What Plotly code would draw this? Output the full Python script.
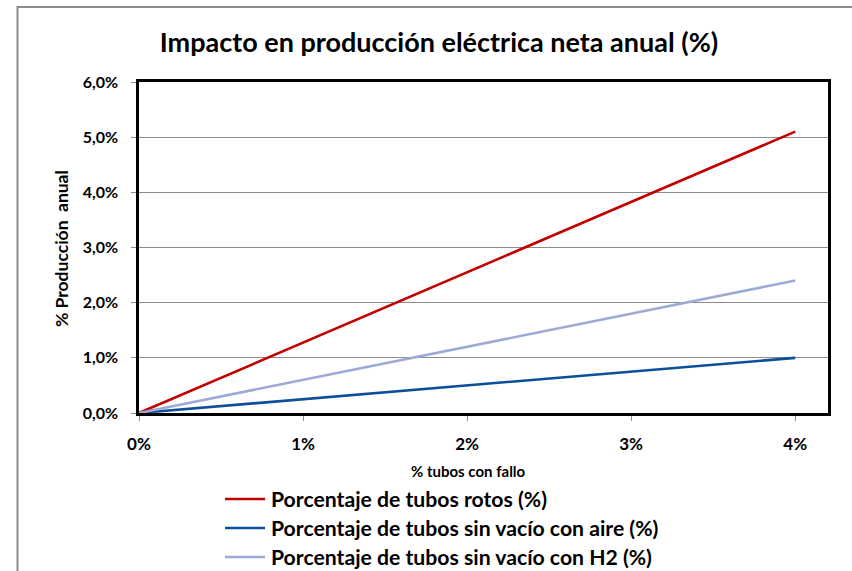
import plotly.graph_objects as go

# Share of failed tubes (fraction) and impact on annual net electric production (fraction)
tubos_fallo = [0.0, 0.01, 0.02, 0.03, 0.04]
rotos = [0.0, 0.01275, 0.0255, 0.03825, 0.051]
sin_vacio_aire = [0.0, 0.0025, 0.005, 0.0075, 0.010]
sin_vacio_h2 = [0.0, 0.006, 0.012, 0.018, 0.024]

series_names = [
    "Porcentaje de tubos rotos (%)",
    "Porcentaje de tubos sin vacío con aire (%)",
    "Porcentaje de tubos sin vacío con H2 (%)",
]
series_colors = ["#C00000", "#0D4E9A", "#9DAAD6"]

x_ticks = [0.0, 0.01, 0.02, 0.03, 0.04]
x_ticktext = ["0%", "1%", "2%", "3%", "4%"]
y_ticks = [0.0, 0.01, 0.02, 0.03, 0.04, 0.05, 0.06]
y_ticktext = ["0,0%", "1,0%", "2,0%", "3,0%", "4,0%", "5,0%", "6,0%"]

FONT = "Lato"
W, H = 852, 571
ML, MR, MT, MB = 139, 24, 82, 158
PW, PH = W - ML - MR, H - MT - MB


def px_x(px):
    return (px - ML) / PW


def px_y(py):
    return (H - MB - py) / PH


fig = go.Figure()
for vals, name, color in zip(
    [rotos, sin_vacio_aire, sin_vacio_h2], series_names, series_colors
):
    fig.add_trace(
        go.Scatter(
            x=tubos_fallo,
            y=vals,
            mode="lines",
            name=name,
            line=dict(color=color, width=2.6),
            cliponaxis=False,
            showlegend=False,
        )
    )

# Legend below the axes: a coloured line sample followed by the series name
rows_y = [499, 528, 557]
legend_shapes = []
legend_notes = []
for name, color, ry in zip(series_names, series_colors, rows_y):
    legend_shapes.append(
        dict(
            type="line",
            xref="paper",
            yref="paper",
            x0=px_x(225),
            x1=px_x(265),
            y0=px_y(ry),
            y1=px_y(ry),
            line=dict(color=color, width=2.6),
        )
    )
    legend_notes.append(
        dict(
            text=f"<b>{name}</b>",
            xref="paper",
            yref="paper",
            x=px_x(269),
            y=px_y(ry),
            xanchor="left",
            yanchor="middle",
            showarrow=False,
            font=dict(family=FONT, size=21.2, color="#000000"),
        )
    )

# Grey frame around the whole chart (open on the right and bottom edges)
frame = [
    dict(
        type="line",
        xref="paper",
        yref="paper",
        x0=px_x(17),
        x1=px_x(W + 5),
        y0=px_y(7),
        y1=px_y(7),
        line=dict(color="#8C8C8C", width=2),
    ),
    dict(
        type="line",
        xref="paper",
        yref="paper",
        x0=px_x(17.5),
        x1=px_x(17.5),
        y0=px_y(6),
        y1=px_y(H + 5),
        line=dict(color="#8C8C8C", width=2),
    ),
]

fig.update_layout(
    width=W,
    height=H,
    margin=dict(l=ML, r=MR, t=MT, b=MB),
    paper_bgcolor="white",
    plot_bgcolor="white",
    showlegend=False,
    font=dict(family=FONT, color="#000000"),
    title=dict(
        text="<b>Impacto en producción eléctrica neta anual (%)</b>",
        x=439 / W,
        xanchor="center",
        y=1 - 43 / H,
        yanchor="middle",
        font=dict(family=FONT, size=27, color="#000000"),
    ),
    xaxis=dict(
        range=[0, 0.042],
        tickvals=x_ticks,
        ticktext=[f"<b>{t}</b>" for t in x_ticktext],
        tickfont=dict(family=FONT, size=17),
        ticks="outside",
        ticklen=5,
        tickcolor="#8C8C8C",
        ticklabelstandoff=9,
        showgrid=False,
        zeroline=False,
        showline=True,
        linecolor="#000000",
        linewidth=2.5,
        mirror=True,
    ),
    yaxis=dict(
        range=[0, 0.06],
        tickvals=y_ticks,
        ticktext=[f"<b>{t}</b>" for t in y_ticktext],
        tickfont=dict(family=FONT, size=16),
        ticks="outside",
        ticklen=5,
        tickcolor="#8C8C8C",
        ticklabelstandoff=10,
        showgrid=True,
        gridcolor="#8C8C8C",
        gridwidth=1,
        zeroline=False,
        showline=True,
        linecolor="#000000",
        linewidth=2.5,
        mirror=True,
    ),
    annotations=[
        dict(
            text="<b>% tubos con fallo</b>",
            xref="paper",
            yref="paper",
            x=px_x(468),
            y=px_y(471),
            xanchor="center",
            yanchor="middle",
            showarrow=False,
            font=dict(family=FONT, size=15),
        ),
        dict(
            text="<b>% Producción  anual</b>",
            xref="paper",
            yref="paper",
            x=px_x(61),
            y=px_y(249),
            xanchor="center",
            yanchor="middle",
            textangle=-90,
            showarrow=False,
            font=dict(family=FONT, size=17.5),
        ),
    ]
    + legend_notes,
    shapes=frame + legend_shapes,
)

fig.write_html("out.html")
